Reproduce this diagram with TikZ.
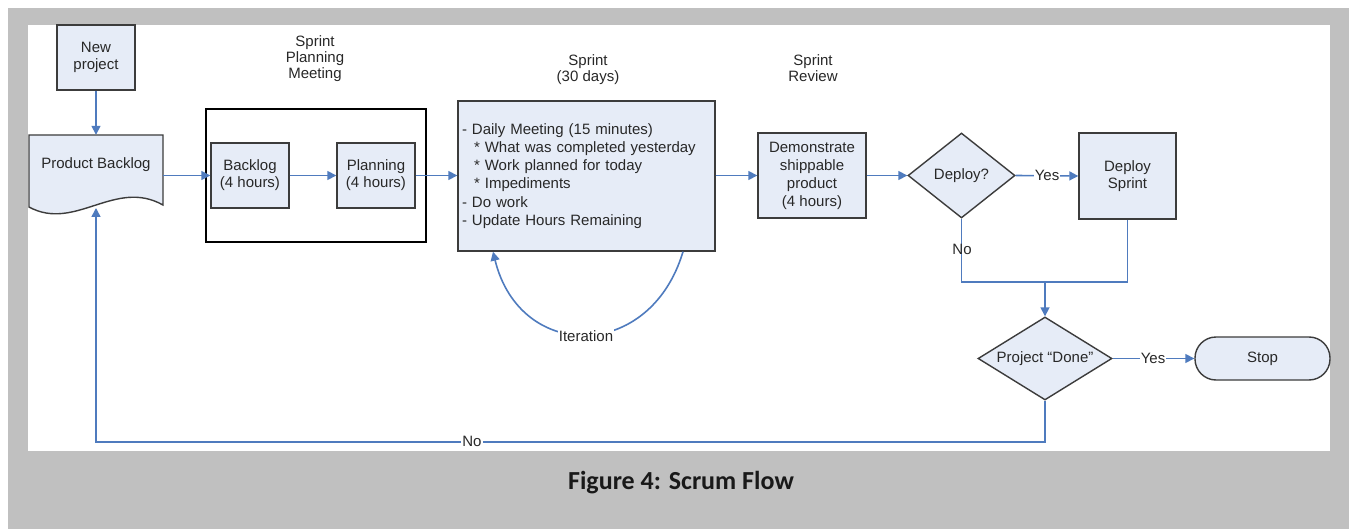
\documentclass[tikz,border=0pt]{standalone}
\usepackage{fontspec}
\setmainfont{Liberation Sans}
\newfontfamily\capfont{Carlito}
\usetikzlibrary{shapes.geometric,arrows.meta}
\definecolor{framegray}{RGB}{192,192,192}
\definecolor{boxfill}{RGB}{230,236,247}
\definecolor{boxdraw}{RGB}{60,60,60}
\definecolor{flow}{RGB}{79,123,190}
\definecolor{txt}{RGB}{40,40,40}
\begin{document}
\begin{tikzpicture}[x=1pt,y=-1pt,
  every node/.style={font=\fontsize{15}{17}\selectfont, text=txt},
  shapeline/.style={draw=boxdraw, fill=boxfill, line width=1.4pt},
  procbox/.style={shapeline, inner sep=2pt, align=center},
  decbox/.style={diamond, aspect=1.6, shapeline, inner sep=0pt},
  flowline/.style={draw=flow, line width=1.6pt},
  flowarrow/.style={flowline, -{Triangle[length=9pt,width=9pt]}},
  linelabel/.style={fill=white, inner sep=1pt},
  heading/.style={align=center, font=\fontsize{15}{16}\selectfont}
]
\useasboundingbox (0,0) rectangle (1349,529);
\fill[white] (0,0) rectangle (1349,529);
\fill[framegray] (8,8) rectangle (1349,529);
\fill[white] (28,25) rectangle (1330,451);

% headings
\node[heading] (hspm) at (315,59) {Sprint\\Planning\\Meeting};
\node[heading] (hsprint) at (588,70) {Sprint\\(30 days)};
\node[heading] (hreview) at (813,68) {Sprint\\Review};

% nodes
\node[procbox, minimum width=78, minimum height=65] (newp) at (96,57.5) {New\\project};
\node[inner sep=0, minimum width=134, minimum height=72] (pb) at (96,171) {};
\draw[shapeline] (29,135) -- (163,135) -- (163,205)
  .. controls (115,178) and (75,232) .. (29,207) -- cycle;
\node (pbtext) at (96,165) {Product Backlog};
\coordinate (pbin) at (96,208);

\node[draw=black, line width=1.4pt, minimum width=220, minimum height=133] (spm) at (316,175.5) {};
\node[procbox, minimum width=78, minimum height=65] (backlog) at (250,175.5) {Backlog\\(4 hours)};
\node[procbox, minimum width=78, minimum height=65] (planning) at (376,175.5) {Planning\\(4 hours)};

\node[shapeline, text width=249pt, inner sep=4pt, minimum height=150, align=left,
      font=\fontsize{15}{18.2}\selectfont] (sprint) at (586.5,176)
  {- Daily Meeting (15 minutes)\\
   \hspace*{12pt}* What was completed yesterday\\
   \hspace*{12pt}* Work planned for today\\
   \hspace*{12pt}* Impediments\\
   - Do work\\
   - Update Hours Remaining};

\node[procbox, minimum width=108, minimum height=85, font=\fontsize{15}{18}\selectfont] (demo) at (812,175.5) {Demonstrate\\shippable\\product\\(4 hours)};
\node[decbox, minimum width=107, minimum height=85] (deploy) at (961.5,175.5) {Deploy?};
\node[procbox, minimum width=97, minimum height=86] (dsprint) at (1127.5,176) {Deploy\\Sprint};
\node[decbox, minimum width=134, minimum height=83] (done) at (1045,358.5) {Project “Done”};
\node[shapeline, rounded corners=21pt, minimum width=135, minimum height=43] (stop) at (1262.5,358.5) {Stop};

% connectors
\draw[flowarrow] (newp.south) -- (pb.north);
\draw[flowarrow] (pb.east |- backlog.west) -- (backlog.west);
\draw[flowarrow] (backlog.east) -- (planning.west);
\draw[flowarrow] (planning.east) -- (planning.east -| sprint.west);
\draw[flowarrow] (sprint.east |- demo.west) -- (demo.west);
\draw[flowarrow] (demo.east) -- (deploy.west);
\draw[flowarrow] (deploy.east) -- (dsprint.west);
\node[linelabel] (yes1) at (1047,175.5) {Yes};

\coordinate (junc) at (1045,282);
\draw[flowline] (deploy.south) -- (deploy.south |- junc) -- (dsprint.south |- junc) -- (dsprint.south);
\node[linelabel, fill=none] (no1) at (962,249) {No};
\draw[flowarrow] (junc) -- (done.north);

\draw[flowarrow] (done.east) -- (stop.west);
\node[linelabel] (yes2) at (1153,358.5) {Yes};

\draw[flowarrow] (done.south) -- ++(0,41) -| (pbin);
\node[linelabel] (no2) at (472,441) {No};

% iteration loop
\coordinate (itA) at ([xshift=96.5pt]sprint.south);
\coordinate (itB) at ([xshift=-93.5pt]sprint.south);
\draw[flowarrow] (itA) .. controls (650,362) and (520,362) .. (itB);
\node[linelabel] (iter) at (586,336) {Iteration};

% caption
\node[font=\capfont\bfseries\fontsize{26}{30}\selectfont, text=black!90] (cap) at (681,483) {Figure 4: Scrum Flow};
\end{tikzpicture}
\end{document}
